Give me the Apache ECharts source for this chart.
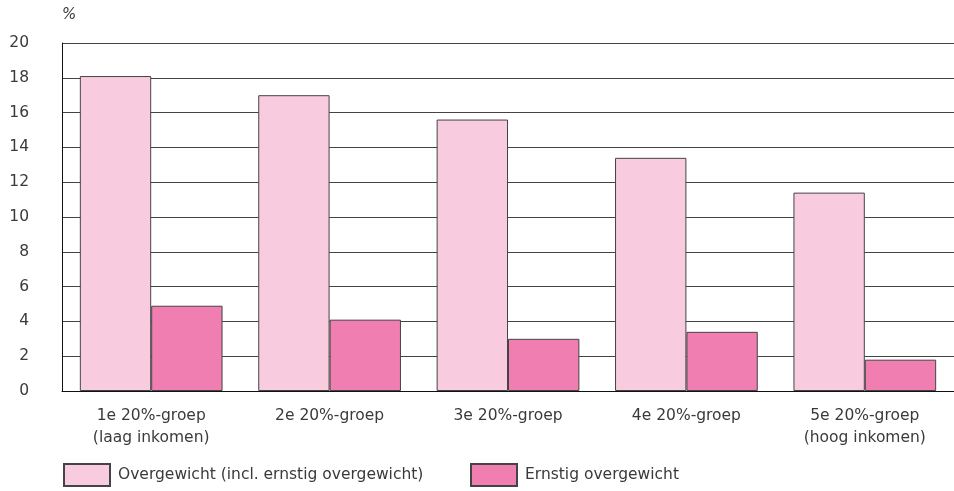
<!DOCTYPE html>
<html>
<head>
<meta charset="utf-8">
<script src="https://cdn.jsdelivr.net/npm/echarts@6/dist/echarts.min.js"></script>
<style>html,body{margin:0;padding:0;background:#fff}#c{width:954px;height:491px}</style>
</head>
<body>
<div id="c"></div>
<script>
const categories = ['1e 20%-groep\n(laag inkomen)', '2e 20%-groep', '3e 20%-groep', '4e 20%-groep', '5e 20%-groep\n(hoog inkomen)'];
const seriesNames = ['Overgewicht (incl. ernstig overgewicht)', 'Ernstig overgewicht'];
const overgewicht = [18.1, 17.0, 15.6, 13.4, 11.4];
const ernstig = [4.9, 4.1, 3.0, 3.4, 1.8];
const yTicks = [0, 2, 4, 6, 8, 10, 12, 14, 16, 18, 20];

const FONT = 'DejaVu Sans';
const chart = echarts.init(document.getElementById('c'));
const legendBase = {
  orient: 'horizontal', itemWidth: 46, itemHeight: 22, itemGap: 8, padding: 0,
  textStyle: { fontFamily: FONT, fontSize: 15.5, color: '#3a3a3a', padding: [0, 0, 0, 3] },
  icon: 'rect', selectedMode: false, top: 463
};
chart.setOption({
  animation: false,
  grid: { left: 62, top: 43, bottom: 100, width: 894, containLabel: false },
  legend: [
    Object.assign({}, legendBase, { left: 63, data: [seriesNames[0]] }),
    Object.assign({}, legendBase, { left: 470, data: [seriesNames[1]] })
  ],
  xAxis: {
    type: 'category', data: categories,
    axisLine: { lineStyle: { color: '#111', width: 1 } },
    axisTick: { show: false },
    axisLabel: { fontFamily: FONT, fontSize: 15.5, color: '#3a3a3a', lineHeight: 22, margin: 14 }
  },
  yAxis: {
    type: 'value', min: 0, max: 20, interval: 2,
    name: '%', nameLocation: 'end', nameGap: 28,
    nameTextStyle: { fontFamily: FONT, fontSize: 15, fontStyle: 'italic', color: '#3a3a3a', align: 'left', verticalAlign: 'middle' },
    axisLine: { show: true, lineStyle: { color: '#111', width: 1 } },
    axisTick: { show: false },
    axisLabel: { fontFamily: FONT, fontSize: 15.5, color: '#3a3a3a', margin: 33,
      formatter: v => yTicks.includes(v) ? String(v) : '' },
    splitLine: { lineStyle: { color: '#444', width: 1 } }
  },
  series: [
    { name: seriesNames[0], type: 'bar', data: overgewicht, barGap: '0%', barCategoryGap: '20%',
      itemStyle: { color: '#F8CBDF', borderColor: '#444', borderWidth: 1 } },
    { name: seriesNames[1], type: 'bar', data: ernstig, barGap: '0%', barCategoryGap: '20%',
      itemStyle: { color: '#F07EB1', borderColor: '#444', borderWidth: 1 } }
  ]
});
</script>
</body>
</html>
